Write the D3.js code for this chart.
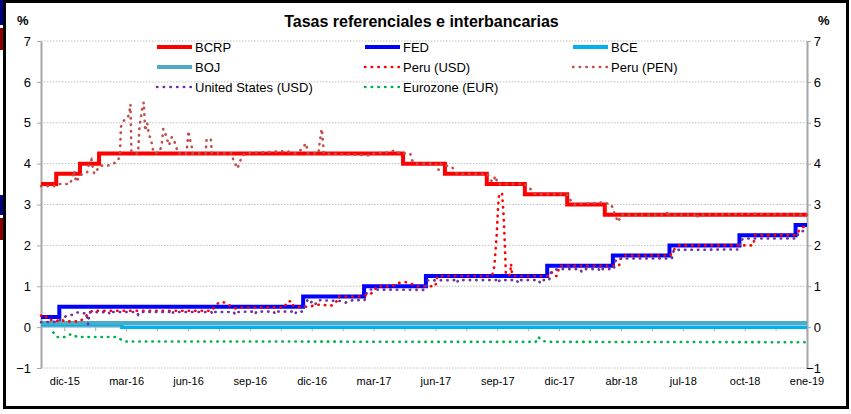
<!DOCTYPE html>
<html><head><meta charset="utf-8">
<script src="https://cdn.jsdelivr.net/npm/d3@7"></script>
<style>
body{margin:0;background:#fff}
text{font-family:"Liberation Sans",Arial,sans-serif;fill:#000}
</style>
</head><body>
<svg id="c" width="851" height="414"></svg>
<script>
// ---------- DATA ----------
const title = "Tasas referenciales e interbancarias";
const xTickLabels = ["dic-15","mar-16","jun-16","sep-16","dic-16","mar-17","jun-17","sep-17","dic-17","abr-18","jul-18","oct-18","ene-19"];
const xTickIdx = [5,18,31,44,57,70,83,96,109,122,135,148,161];
const yTicks = [-1,0,1,2,3,4,5,6,7];
const lastIdx = 161;

// step series: [period index, rate]
const bcrp = [[0,3.5],[3.2,3.75],[8.2,4.0],[12.2,4.25],[76.1,4.0],[84.9,3.75],[93.7,3.5],[101.7,3.25],[110.6,3.0],[118.5,2.75]];
const fed  = [[0,0.25],[3.85,0.5],[55.1,0.75],[67.9,1.0],[80.9,1.25],[106.4,1.5],[120.2,1.75],[132.1,2.0],[146.8,2.25],[158.6,2.5]];
const bce  = [[0,0.05],[17.0,0.0]];
const boj  = [[0,0.1]];

// interbank series: [period index, rate]
const peruUSD = [[0,0.28],[0.8,0.31],[1.3,0.2],[2.3,0.17],[3.4,0.15],[4.0,0.2],[5.0,0.14],[8.2,0.14],[9.2,0.24],[10.3,0.37],[10.9,0.4],
  [35.9,0.4],[36.5,0.5],[37.2,0.58],[38.2,0.62],[39.7,0.53],[41.0,0.45],[42.0,0.48],[51.2,0.48],[51.7,0.62],[52.7,0.64],[53.0,0.53],[53.7,0.5],
  [56.5,0.5],[58.0,0.55],[61.2,0.53],[62.2,0.64],[62.5,0.75],[67.0,0.75],[68.7,0.78],[69.8,0.85],[70.6,1.0],[73.8,1.0],[75.0,1.08],[76.7,1.1],
  [78.0,1.05],[79.0,1.0],[82.9,1.0],[83.3,1.25],[94.8,1.25],[95.3,1.5],[95.8,2.3],[96.1,3.0],[96.3,3.25],[96.9,3.28],[97.2,2.8],[97.5,2.0],
  [97.7,1.3],[98.3,1.25],[98.6,1.3],[98.8,1.55],[99.0,1.3],[99.3,1.25],[106.6,1.25],[107.3,1.35],[107.8,1.25],[108.4,1.25],[109.0,1.5],
  [121.5,1.5],[122.0,1.72],[122.3,1.75],[132.2,1.75],[132.5,1.8],[133.2,1.92],[134.0,2.0],[149.7,2.0],[150.1,2.25],[158.7,2.25],
  [159.0,2.3],[159.5,2.4],[160.2,2.45],[161,2.45]];
const peruPEN = [[0,3.45],[3.0,3.45],[3.6,3.5],[6.1,3.5],[6.5,3.63],[7.0,3.83],[7.3,3.6],[7.6,3.55],[7.9,3.7],[9.7,3.79],[10.1,4.0],
  [10.6,4.09],[10.9,3.89],[11.2,3.75],[12.4,3.95],[14.0,3.95],[15.2,4.0],[16.2,4.07],[16.6,4.25],[16.8,4.9],[17.4,5.05],[18.1,5.1],
  [18.5,5.2],[18.8,5.45],[19.0,4.3],[19.8,4.25],[20.4,4.25],[20.7,4.9],[21.2,5.3],[21.6,5.5],[21.9,4.8],[22.3,5.0],[22.7,4.7],[23.1,4.6],
  [23.6,4.3],[24.0,4.25],[25.0,4.3],[25.4,4.5],[25.7,4.85],[26.1,4.75],[26.5,4.6],[26.9,4.45],[27.5,4.65],[28.2,4.5],[28.8,4.25],
  [30.5,4.25],[30.7,4.4],[31.0,4.8],[31.3,4.6],[31.7,4.4],[31.9,4.25],[34.6,4.25],[34.8,4.6],[35.7,4.6],[35.9,4.25],[40.1,4.25],
  [40.4,4.1],[41.0,3.95],[41.3,3.88],[41.8,4.05],[42.4,4.2],[43.0,4.25],[50.2,4.3],[51.9,4.3],[53.4,4.25],[54.3,4.3],[55.1,4.4],
  [55.7,4.5],[56.1,4.25],[58.3,4.25],[58.5,4.45],[58.8,4.7],[59.0,4.85],[59.3,4.5],[59.4,4.25],[69.5,4.2],[70.0,4.25],[73.5,4.28],
  [74.2,4.33],[75.4,4.25],[77.6,4.25],[77.9,4.1],[78.5,4.0],[83.0,4.0],[83.2,3.87],[83.7,3.85],[84.1,4.0],[85.3,3.95],[86.5,3.9],
  [87.0,3.8],[87.5,3.75],[93.0,3.75],[93.8,3.75],[94.5,3.6],[95.0,3.55],[95.5,3.7],[96.0,3.5],[101.5,3.5],[102.5,3.45],[103.2,3.32],
  [104.0,3.25],[110.5,3.25],[111.0,3.15],[112.0,3.0],[118.1,3.05],[119.9,3.0],[120.3,2.85],[121.0,2.65],[121.3,2.57],[122.0,2.75],
  [131.5,2.75],[131.7,2.85],[132.0,2.75],[137.8,2.75],[137.9,2.68],[138.1,2.75],[150,2.77],[161,2.75]];
const usUSD = [[0,0.12],[3.5,0.13],[4.0,0.18],[5.4,0.28],[6.5,0.3],[7.5,0.36],[9.6,0.33],[9.9,0.07],[10.2,0.36],[14.2,0.37],[14.5,0.31],
  [14.8,0.37],[20.1,0.37],[20.4,0.31],[20.7,0.37],[27.2,0.37],[27.5,0.31],[27.8,0.37],[35.8,0.37],[36.1,0.31],[36.4,0.37],[40.5,0.37],
  [40.8,0.31],[41.1,0.37],[44.7,0.38],[45.0,0.32],[45.3,0.38],[48.9,0.38],[49.2,0.32],[49.5,0.38],[53.1,0.38],[53.4,0.32],[53.7,0.38],
  [55.0,0.38],[55.6,0.55],[56.0,0.66],[56.5,0.58],[57.0,0.63],[57.6,0.55],[58.2,0.66],[62.9,0.64],[64.0,0.6],[65.5,0.66],[68.0,0.66],
  [68.5,0.85],[69.1,0.92],[80.8,0.91],[81.1,1.14],[87.1,1.15],[87.4,1.08],[87.7,1.15],[95.8,1.15],[96.1,1.08],[96.4,1.15],[100.0,1.15],
  [100.3,1.08],[100.6,1.15],[104.6,1.15],[104.9,1.08],[105.2,1.15],[106.8,1.15],[107.2,1.34],[107.8,1.38],[108.5,1.42],[113.3,1.42],
  [113.6,1.36],[113.9,1.42],[117.2,1.42],[117.5,1.36],[117.8,1.42],[120.4,1.42],[120.7,1.6],[121.0,1.68],[132.6,1.68],[133.0,1.89],
  [146.7,1.9],[147.0,2.12],[147.8,2.17],[158.8,2.17],[159.2,2.3],[160.5,2.37],[161,2.38]];
const eurozone = [[2.6,-0.13],[3.3,-0.24],[5.3,-0.24],[6.1,-0.18],[6.9,-0.18],[7.5,-0.24],[15.9,-0.24],[17.0,-0.32],[17.9,-0.35],
  [40,-0.35],[80,-0.36],[104.0,-0.36],[104.5,-0.24],[105.0,-0.3],[105.6,-0.34],[106.5,-0.36],[161,-0.37]];

const seriesNames = ["BCRP","FED","BCE","BOJ","Peru (USD)","Peru (PEN)","United States (USD)","Eurozone (EUR)"];
const seriesColors = ["#FF0000","#0000FF","#00B0F0","#4BACC6","#FF0000","#C0504D","#7030A0","#00B050"];
const seriesData = [bcrp, fed, bce, boj, peruUSD, peruPEN, usUSD, eurozone];
const seriesIsStep = [true,true,true,true,false,false,false,false];

// ---------- DRAW ----------
const svg = d3.select("#c");
svg.append("rect").attr("width",851).attr("height",414).attr("fill","#fff");

const x = d3.scaleLinear().domain([0,lastIdx]).range([41,807]);
const y = d3.scaleLinear().domain([-1,7]).range([368,41]);

// gridlines
svg.append("g").selectAll("line").data(yTicks.filter(v=>v!==0)).join("line")
  .attr("x1",x(0)).attr("x2",x(lastIdx)).attr("y1",d=>y(d)).attr("y2",d=>y(d))
  .attr("stroke","#BFBFBF").attr("stroke-width",1).attr("stroke-dasharray","1.5 1.5");

// y axes
const axL = svg.append("g").attr("transform",`translate(${x(0)},0)`)
  .call(d3.axisLeft(y).tickValues(yTicks).tickSize(4).tickSizeOuter(0).tickFormat(d3.format("d")));
const axR = svg.append("g").attr("transform",`translate(${x(lastIdx)},0)`)
  .call(d3.axisRight(y).tickValues(yTicks).tickSize(4).tickSizeOuter(0).tickFormat(d3.format("d")));
[axL,axR].forEach(a=>{
  a.select(".domain").attr("stroke","#A6A6A6").attr("stroke-width",2);
  a.selectAll(".tick line").attr("stroke","#A6A6A6").attr("stroke-width",1);
  a.selectAll("text").attr("font-size",13).attr("font-family",'"Liberation Sans",Arial,sans-serif').attr("fill","#000");
});
axL.selectAll("text").attr("x",-10);
axR.selectAll("text").attr("x",14).attr("text-anchor","end");

// x axis at y=0 with category ticks
const tickIdx = d3.range(xTickIdx[0], lastIdx+0.01, 6.5);
const axX = svg.append("g").attr("transform",`translate(0,${y(0)})`);
axX.append("line").attr("x1",x(0)).attr("x2",x(lastIdx)).attr("stroke","#A6A6A6").attr("stroke-width",1);
axX.selectAll("line.t").data(tickIdx).join("line").attr("class","t")
  .attr("x1",d=>x(d)).attr("x2",d=>x(d)).attr("y1",0).attr("y2",4).attr("stroke","#A6A6A6");
svg.append("g").selectAll("text").data(xTickLabels).join("text")
  .attr("x",(d,i)=>x(xTickIdx[i])).attr("y",385).attr("text-anchor","middle")
  .attr("font-size",11).text(d=>d);

// series
const lineStep = d3.line().x(d=>x(d[0])).y(d=>y(d[1])).curve(d3.curveStepAfter);
const lineDot = d3.line().x(d=>x(d[0])).y(d=>y(d[1]));
const gS = svg.append("g");
seriesData.forEach((data,i)=>{
  if(seriesIsStep[i]){
    const pts = data.concat([[lastIdx, data[data.length-1][1]]]);
    gS.append("path").attr("d",lineStep(pts)).attr("fill","none")
      .attr("stroke",seriesColors[i]).attr("stroke-width",i===2?3.5:4);
  }
});
seriesData.forEach((data,i)=>{
  if(!seriesIsStep[i]){
    gS.append("path").attr("d",lineDot(data)).attr("fill","none")
      .attr("stroke",seriesColors[i]).attr("stroke-width",2.6)
      .attr("stroke-linecap","round").attr("stroke-dasharray","0.4 6.1");
  }
});

// legend
const legCols = [157,365,573], legRows = [47,67,87];
const gL = svg.append("g");
seriesNames.forEach((name,i)=>{
  const cx = legCols[i%3], cy = legRows[Math.floor(i/3)];
  const l = gL.append("line").attr("x1",cx).attr("x2",cx+35).attr("y1",cy).attr("y2",cy)
    .attr("stroke",seriesColors[i]);
  if(seriesIsStep[i]) l.attr("stroke-width",4);
  else l.attr("stroke-width",2.6).attr("stroke-linecap","round").attr("stroke-dasharray","0.4 6.3");
  gL.append("text").attr("x",cx+38).attr("y",cy+4.7).attr("font-size",13).text(name);
});

// title & units
svg.append("text").attr("x",421.5).attr("y",27).attr("text-anchor","middle")
  .attr("font-size",16).attr("font-weight","bold").text(title);
svg.append("text").attr("x",17).attr("y",25).attr("font-size",13).attr("font-weight","bold").text("%");
svg.append("text").attr("x",818).attr("y",25).attr("font-size",13).attr("font-weight","bold").text("%");

// frame and slide fragments
svg.append("rect").attr("x",4.5).attr("y",1.5).attr("width",843).attr("height",406)
  .attr("fill","none").attr("stroke","#000").attr("stroke-width",3);
[[0,25,"#000080"],[28,22,"#8B0000"],[195,20,"#000080"],[218,22,"#8B0000"]].forEach(r=>{
  svg.append("rect").attr("x",0).attr("y",r[0]).attr("width",3).attr("height",r[1]).attr("fill",r[2]);
});
</script>
</body></html>
